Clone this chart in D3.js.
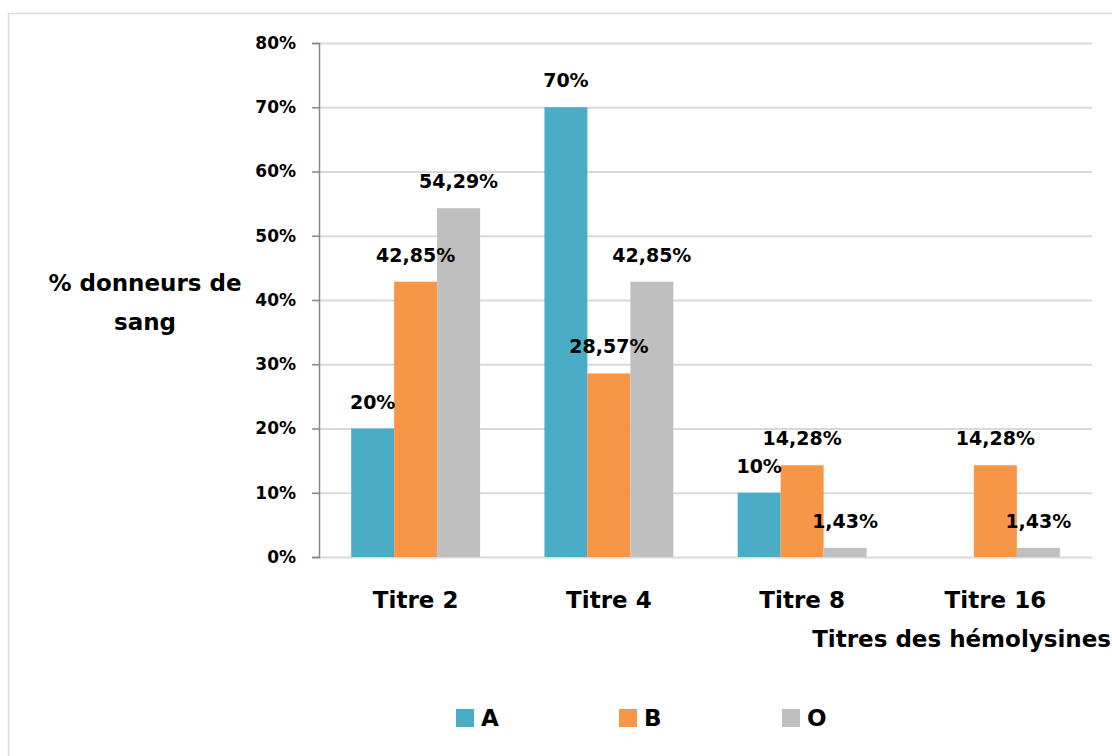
<!DOCTYPE html>
<html>
<head>
<meta charset="utf-8">
<script src="https://cdn.jsdelivr.net/npm/d3@7"></script>
<style>
  html, body { margin: 0; padding: 0; background: #fff; }
  svg text { font-family: "DejaVu Sans", "Open Sans", sans-serif; font-weight: bold; fill: #000; }
</style>
</head>
<body>
<svg id="chart" width="1112" height="756"></svg>
<script>
// Hemolysin titres by blood group
const categories = ["Titre 2", "Titre 4", "Titre 8", "Titre 16"];
const groups = ["A", "B", "O"];
const valuesA = [20, 70, 10, null];
const valuesB = [42.85, 28.57, 14.28, 14.28];
const valuesO = [54.29, 42.85, 1.43, 1.43];
const labelsA = ["20%", "70%", "10%", null];
const labelsB = ["42,85%", "28,57%", "14,28%", "14,28%"];
const labelsO = ["54,29%", "42,85%", "1,43%", "1,43%"];
const yTicks = [0, 10, 20, 30, 40, 50, 60, 70, 80];
const yTickLabels = ["0%", "10%", "20%", "30%", "40%", "50%", "60%", "70%", "80%"];
const colors = ["#4BACC6", "#F79646", "#BFBFBF"];

const seriesValues = [valuesA, valuesB, valuesO];
const seriesLabels = [labelsA, labelsB, labelsO];

const svg = d3.select("#chart");

// outer chart frame
svg.append("rect")
  .attr("x", 8.5).attr("y", 13.5)
  .attr("width", 1120).attr("height", 760)
  .attr("fill", "none").attr("stroke", "#d9d9d9").attr("stroke-width", 1.5);

const plot = { left: 319, right: 1092, top: 43, bottom: 557 };

const x0 = d3.scaleBand().domain(categories).range([plot.left, plot.right]).paddingInner(0.333).paddingOuter(0.1665);
const x1 = d3.scaleBand().domain(groups).range([0, x0.bandwidth()]);
const y = d3.scaleLinear().domain([0, 80]).range([plot.bottom, plot.top]);

// gridlines
svg.append("g")
  .selectAll("line")
  .data(yTicks)
  .join("line")
  .attr("x1", plot.left).attr("x2", plot.right)
  .attr("y1", d => y(d) + 0.5).attr("y2", d => y(d) + 0.5)
  .attr("stroke", "#d9d9d9").attr("stroke-width", 2);

// bars
const catG = svg.append("g")
  .selectAll("g")
  .data(categories)
  .join("g")
  .attr("transform", d => `translate(${x0(d)},0)`);

const cells = (c, ci) => groups
  .map((g, gi) => ({ g, gi, v: seriesValues[gi][ci], label: seriesLabels[gi][ci] }))
  .filter(d => d.v !== null);

catG.selectAll("rect")
  .data(cells)
  .join("rect")
  .attr("x", d => x1(d.g))
  .attr("width", x1.bandwidth())
  .attr("y", d => y(d.v))
  .attr("height", d => y(0) - y(d.v))
  .attr("fill", d => colors[d.gi]);

// value labels
catG.selectAll("text")
  .data(cells)
  .join("text")
  .attr("x", d => x1(d.g) + x1.bandwidth() / 2)
  .attr("y", d => y(d.v) - 27)
  .attr("text-anchor", "middle")
  .attr("dominant-baseline", "central")
  .attr("font-size", 19)
  .text(d => d.label);

// y axis
const yAxis = d3.axisLeft(y)
  .tickValues(yTicks)
  .tickFormat((d, i) => yTickLabels[i])
  .tickSize(7)
  .tickPadding(16);
const yAxisG = svg.append("g")
  .attr("transform", `translate(${plot.left},0)`)
  .call(yAxis);
yAxisG.select(".domain").attr("stroke", "#868686").attr("stroke-width", 1.5);
yAxisG.selectAll(".tick line").attr("stroke", "#868686").attr("stroke-width", 1.5);
yAxisG.selectAll(".tick text")
  .attr("font-size", 17)
  .attr("font-family", "'DejaVu Sans', 'Open Sans', sans-serif")
  .attr("font-weight", "bold")
  .attr("fill", "#000");

// category labels
svg.append("g")
  .selectAll("text")
  .data(categories)
  .join("text")
  .attr("x", d => x0(d) + x0.bandwidth() / 2)
  .attr("y", 600)
  .attr("text-anchor", "middle")
  .attr("dominant-baseline", "central")
  .attr("font-size", 23)
  .text(d => d);

// axis titles
svg.append("text")
  .attr("x", 1111).attr("y", 639)
  .attr("text-anchor", "end")
  .attr("dominant-baseline", "central")
  .attr("font-size", 23)
  .text("Titres des hémolysines");

const yTitle = svg.append("text")
  .attr("text-anchor", "middle")
  .attr("font-size", 23);
yTitle.append("tspan").attr("x", 145).attr("y", 283).attr("dominant-baseline", "central").text("% donneurs de");
yTitle.append("tspan").attr("x", 145).attr("y", 322).attr("dominant-baseline", "central").text("sang");

// legend
const legendX = [456, 619, 782];
const legend = svg.append("g")
  .selectAll("g")
  .data(groups)
  .join("g")
  .attr("transform", (d, i) => `translate(${legendX[i]},709)`);
legend.append("rect")
  .attr("width", 18).attr("height", 18)
  .attr("fill", (d, i) => colors[i]);
legend.append("text")
  .attr("x", 25).attr("y", 9)
  .attr("dominant-baseline", "central")
  .attr("font-size", 23)
  .text(d => d);
</script>
</body>
</html>
